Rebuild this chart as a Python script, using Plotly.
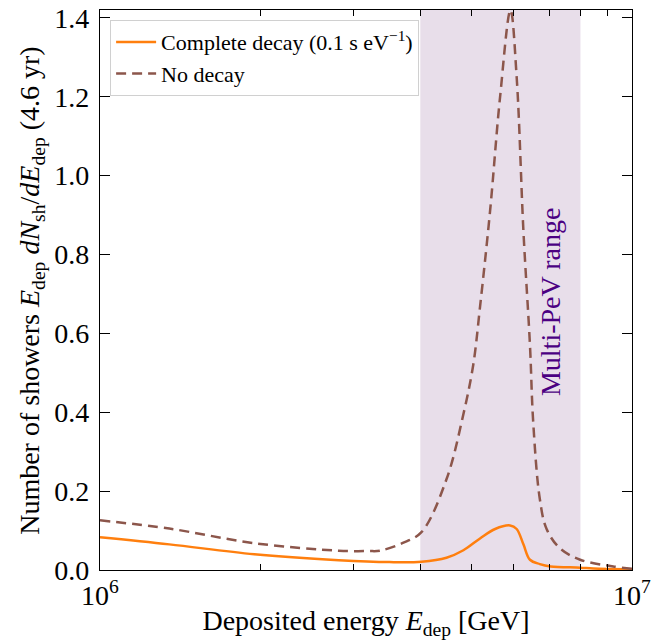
import math
import plotly.graph_objects as go

# Data
E_nodecay = [1.0e6, 1.35e6, 1.95e6, 2.81e6, 3.2e6, 3.36e6, 3.7e6, 4.02e6, 4.48e6, 4.82e6,
             5.03e6, 5.18e6, 5.41e6, 5.65e6, 5.91e6, 6.07e6, 6.25e6, 6.43e6, 6.52e6,
             6.71e6, 6.91e6, 7.32e6, 7.99e6, 9.22e6, 1.0e7]
N_nodecay = [0.126, 0.105, 0.068, 0.049, 0.048, 0.049, 0.068, 0.096, 0.23, 0.395,
             0.52, 0.667, 0.91, 1.20, 1.42, 1.25, 0.86, 0.57, 0.376,
             0.18, 0.104, 0.055, 0.026, 0.009, 0.003]

E_complete = [1.0e6, 1.35e6, 1.95e6, 2.81e6, 3.5e6, 4.02e6, 4.48e6, 4.82e6, 5.18e6, 5.53e6,
              5.9e6, 6.07e6, 6.25e6, 6.43e6, 6.71e6, 7.03e6, 7.99e6, 8.47e6, 1.0e7]
N_complete = [0.083, 0.065, 0.040, 0.025, 0.020, 0.021, 0.031, 0.05, 0.08, 0.104,
              0.113, 0.104, 0.065, 0.026, 0.015, 0.009, 0.006, 0.004, 0.002]

band = [4.0e6, 8.0e6]
band_label = "Multi-PeV range"
band_label_pos = [7.05e6, 0.68]
x_ticks = [1e6, 1e7]
x_ticktext = ["10<sup>6</sup>", "10<sup>7</sup>"]
x_minor = [2e6, 3e6, 4e6, 5e6, 6e6, 7e6, 8e6, 9e6]
y_ticks = [0.0, 0.2, 0.4, 0.6, 0.8, 1.0, 1.2, 1.4]
x_title = "Deposited energy <i>E</i><sub>dep</sub> [GeV]"
y_title = ("Number of showers <i>E</i><sub>dep</sub> <i>dN</i><sub>sh</sub>/"
           "<i>dE</i><sub>dep</sub> (4.6 yr)")

FONT = "Liberation Serif"

fig = go.Figure()
fig.add_vrect(x0=band[0], x1=band[1], fillcolor="rgb(232,222,234)", opacity=1,
              line_width=0, layer="below")
fig.add_trace(go.Scatter(x=E_complete, y=N_complete, mode="lines", line_shape="spline",
                         name="Complete decay (0.1 s eV<sup>−1</sup>)",
                         line=dict(color="#ff7f0e", width=2.5)))
fig.add_trace(go.Scatter(x=E_nodecay, y=N_nodecay, mode="lines", line_shape="spline",
                         name="No decay",
                         line=dict(color="#8c564b", width=2.5, dash="10px,6px")))
fig.add_annotation(x=math.log10(band_label_pos[0]), y=band_label_pos[1], xref="x", yref="y",
                   text=band_label, textangle=-90, showarrow=False,
                   font=dict(family=FONT, size=28, color="#4b0082"))
# y-axis title drawn as a rotated text beside the axis
fig.add_annotation(x=-0.13, y=0.5, xref="paper", yref="paper", text=y_title,
                   textangle=-90, showarrow=False, xanchor="center", yanchor="middle",
                   font=dict(family=FONT, size=28, color="black"))

fig.update_layout(
    width=667, height=644,
    margin=dict(l=100, r=35, t=10, b=74, autoexpand=False),
    paper_bgcolor="white", plot_bgcolor="white",
    font=dict(family=FONT, size=20, color="black"),
    showlegend=True,
    legend=dict(x=0.019, y=0.982, xanchor="left", yanchor="top",
                bgcolor="rgba(255,255,255,0.85)", bordercolor="#d0d0d0", borderwidth=1,
                font=dict(family=FONT, size=22), itemwidth=40, tracegroupgap=0),
    xaxis=dict(type="log", range=[6, 7], tickvals=x_ticks, ticktext=x_ticktext,
               ticks="inside", ticklen=10, tickwidth=1.2, tickcolor="black",
               showline=True, linecolor="black", linewidth=1.2, mirror="allticks",
               showgrid=False, zeroline=False, automargin=False,
               ticklabeloverflow="allow",
               minor=dict(tickvals=x_minor, ticks="inside", ticklen=6, tickwidth=1,
                          tickcolor="black"),
               tickfont=dict(size=28),
               title=dict(text=x_title, font=dict(size=28), standoff=0)),
    yaxis=dict(range=[0, 1.42], tickvals=y_ticks, tickformat=".1f",
               ticks="inside", ticklen=10, tickwidth=1.2, tickcolor="black",
               showline=True, linecolor="black", linewidth=1.2, mirror="allticks",
               showgrid=False, zeroline=False, automargin=False,
               ticklabeloverflow="allow", ticklabelstandoff=4,
               tickfont=dict(size=28)),
)

# remove the browser's default 8px body margin so the figure fills the window
fig.write_html("out.html", config={"displayModeBar": False},
               post_script="document.body.style.margin='0';")
